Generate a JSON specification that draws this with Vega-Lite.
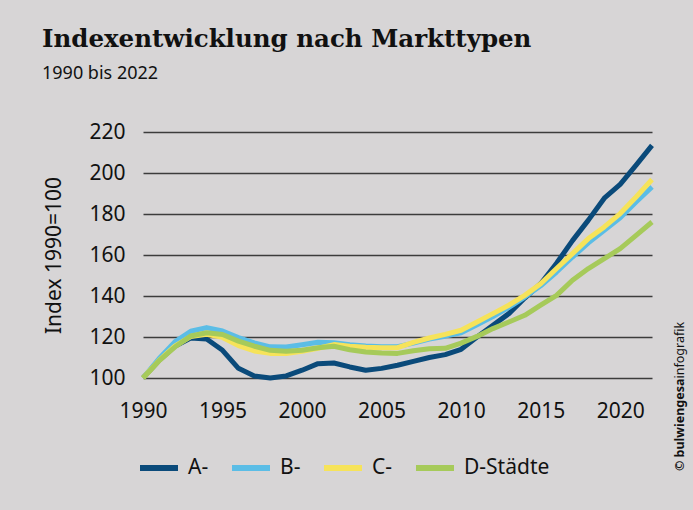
{
  "$schema": "https://vega.github.io/schema/vega-lite/v6.json",
  "autosize": "none",
  "width": 509,
  "height": 246,
  "padding": {"left": 143, "top": 132, "right": 41, "bottom": 132},
  "background": "#d7d5d6",
  "title": {
    "text": "Indexentwicklung nach Markttypen",
    "subtitle": "1990 bis 2022",
    "anchor": "start",
    "frame": "group",
    "dx": -101,
    "offset": 37,
    "font": "DejaVu Serif",
    "fontSize": 24.5,
    "fontWeight": "bold",
    "color": "#111111",
    "subtitleFont": "Noto Sans",
    "subtitleFontSize": 18,
    "subtitleColor": "#111111",
    "subtitlePadding": 13
  },
  "data": {
    "values": [
      {"year": 1990, "A-": 100, "B-": 100, "C-": 100, "D-Städte": 100},
      {"year": 1991, "A-": 108.5, "B-": 109.4, "C-": 108.5, "D-Städte": 108.3},
      {"year": 1992, "A-": 115.5, "B-": 117.6, "C-": 115.5, "D-Städte": 115.1},
      {"year": 1993, "A-": 119.5, "B-": 122.8, "C-": 120.2, "D-Städte": 120.5},
      {"year": 1994, "A-": 119, "B-": 124.6, "C-": 121.3, "D-Städte": 122.1},
      {"year": 1995, "A-": 113.5, "B-": 122.9, "C-": 119.8, "D-Städte": 121.2},
      {"year": 1996, "A-": 104.7, "B-": 119.7, "C-": 115.8, "D-Städte": 118},
      {"year": 1997, "A-": 101, "B-": 117.1, "C-": 113.2, "D-Städte": 115.5},
      {"year": 1998, "A-": 100, "B-": 115.2, "C-": 112, "D-Städte": 113.5},
      {"year": 1999, "A-": 101, "B-": 115.1, "C-": 112, "D-Städte": 113},
      {"year": 2000, "A-": 103.8, "B-": 116.2, "C-": 113, "D-Städte": 113.5},
      {"year": 2001, "A-": 107, "B-": 117.4, "C-": 114.5, "D-Städte": 114.8},
      {"year": 2002, "A-": 107.3, "B-": 117.2, "C-": 116.3, "D-Städte": 115.5},
      {"year": 2003, "A-": 105.4, "B-": 116.2, "C-": 115.5, "D-Städte": 113.8},
      {"year": 2004, "A-": 103.8, "B-": 115.6, "C-": 115, "D-Städte": 112.7},
      {"year": 2005, "A-": 104.7, "B-": 115.3, "C-": 114.8, "D-Städte": 112.2},
      {"year": 2006, "A-": 106.2, "B-": 115.3, "C-": 114.8, "D-Städte": 112},
      {"year": 2007, "A-": 108.1, "B-": 117, "C-": 117.4, "D-Städte": 113.3},
      {"year": 2008, "A-": 110, "B-": 119, "C-": 119.5, "D-Städte": 114.3},
      {"year": 2009, "A-": 111.4, "B-": 120.4, "C-": 121.3, "D-Städte": 114.5},
      {"year": 2010, "A-": 114, "B-": 122.1, "C-": 123.3, "D-Städte": 117},
      {"year": 2011, "A-": 120, "B-": 126, "C-": 127.3, "D-Städte": 120.3},
      {"year": 2012, "A-": 125.7, "B-": 130, "C-": 131.4, "D-Städte": 124.1},
      {"year": 2013, "A-": 131.4, "B-": 134.5, "C-": 135.5, "D-Städte": 127.3},
      {"year": 2014, "A-": 139, "B-": 139.5, "C-": 140.3, "D-Städte": 130.6},
      {"year": 2015, "A-": 146, "B-": 145, "C-": 146, "D-Städte": 135.5},
      {"year": 2016, "A-": 156, "B-": 151.7, "C-": 153.4, "D-Städte": 140.3},
      {"year": 2017, "A-": 167, "B-": 159, "C-": 160.7, "D-Städte": 147.7},
      {"year": 2018, "A-": 177, "B-": 165.9, "C-": 168, "D-Städte": 153.4},
      {"year": 2019, "A-": 187.7, "B-": 172, "C-": 173.7, "D-Städte": 158.2},
      {"year": 2020, "A-": 194.5, "B-": 178.2, "C-": 180.2, "D-Städte": 163.1},
      {"year": 2021, "A-": 203.8, "B-": 185.9, "C-": 188.3, "D-Städte": 169.6},
      {"year": 2022, "A-": 213.5, "B-": 193.2, "C-": 196.8, "D-Städte": 176.1}
    ]
  },
  "transform": [
    {"fold": ["A-", "B-", "C-", "D-Städte"], "as": ["series", "value"]}
  ],
  "layer": [
    {
      "mark": {"type": "line", "strokeWidth": 5, "strokeJoin": "round", "strokeCap": "butt"},
      "encoding": {
        "x": {
          "field": "year",
          "type": "quantitative",
          "scale": {"domain": [1990, 2022], "nice": false, "zero": false},
          "axis": {
            "values": [1990, 1995, 2000, 2005, 2010, 2015, 2020],
            "format": "d",
            "title": null,
            "domain": false,
            "ticks": false,
            "grid": false,
            "labelFont": "Noto Sans",
            "labelFontSize": 21,
            "labelColor": "#111111",
            "labelPadding": 22,
            "labelFlush": false
          }
        },
        "y": {
          "field": "value",
          "type": "quantitative",
          "scale": {"domain": [100, 220], "nice": false, "zero": false},
          "axis": {
            "values": [100, 120, 140, 160, 180, 200, 220],
            "title": "Index 1990=100",
            "titleFont": "Noto Sans",
            "titleFontSize": 21,
            "titleFontWeight": "normal",
            "titleColor": "#111111",
            "titlePadding": 24,
            "domain": false,
            "ticks": false,
            "grid": true,
            "gridColor": "#3c3c3c",
            "gridWidth": 1.3,
            "labelFont": "Noto Sans",
            "labelFontSize": 21,
            "labelColor": "#111111",
            "labelPadding": 18
          }
        },
        "color": {
          "field": "series",
          "type": "nominal",
          "scale": {
            "domain": ["A-", "B-", "C-", "D-Städte"],
            "range": ["#0a4a7a", "#5bbde6", "#f6e35a", "#a6ca5a"]
          },
          "legend": {
            "title": null,
            "orient": "none",
            "direction": "horizontal",
            "legendX": -6,
            "legendY": 314,
            "symbolType": "stroke",
            "symbolSize": 1444,
            "symbolStrokeWidth": 6,
            "labelFont": "Noto Sans",
            "labelFontSize": 21,
            "labelColor": "#111111",
            "labelOffset": 7,
            "columnPadding": 11
          }
        }
      }
    },
    {
      "mark": {"type": "line", "opacity": 0},
      "encoding": {
        "x": {
          "field": "year",
          "type": "quantitative",
          "scale": {"domain": [1990, 2022], "nice": false, "zero": false},
          "axis": {
            "orient": "top",
            "title": "© bulwiengesa",
            "titleAngle": 270,
            "titleX": 536,
            "titleY": 246,
            "titleAlign": "right",
            "titleBaseline": "middle",
            "titleFont": "Noto Sans",
            "titleFontSize": 12.5,
            "titleFontWeight": "bold",
            "titleColor": "#111111",
            "labels": false,
            "ticks": false,
            "domain": false,
            "grid": false
          }
        },
        "y": {
          "field": "value",
          "type": "quantitative",
          "scale": {"domain": [100, 220], "nice": false, "zero": false},
          "axis": {
            "orient": "right",
            "title": "infografik",
            "titleAngle": 270,
            "titleX": 27,
            "titleY": 246,
            "titleAlign": "left",
            "titleBaseline": "middle",
            "titleFont": "Noto Sans",
            "titleFontSize": 12.5,
            "titleFontWeight": "normal",
            "titleColor": "#111111",
            "labels": false,
            "ticks": false,
            "domain": false,
            "grid": false
          }
        }
      }
    }
  ],
  "resolve": {"scale": {"x": "independent", "y": "independent"}},
  "config": {
    "view": {"stroke": null},
    "font": "Noto Sans"
  }
}
